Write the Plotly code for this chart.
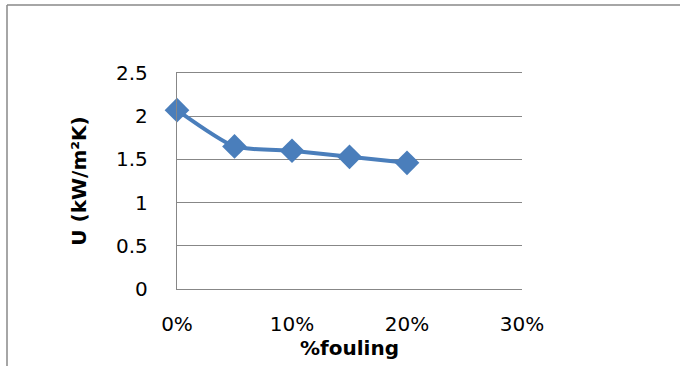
import plotly.graph_objects as go

# Overall heat-transfer coefficient versus fouling fraction
fouling = [0.00, 0.05, 0.10, 0.15, 0.20]
u_values = [2.07, 1.65, 1.60, 1.53, 1.46]
x_ticks = [0.0, 0.1, 0.2, 0.3]
x_tick_labels = ["0%", "10%", "20%", "30%"]
y_ticks = [0, 0.5, 1, 1.5, 2, 2.5]
y_tick_labels = ["0", "0.5", "1", "1.5", "2", "2.5"]

W, H = 680, 366
ML, MR, MT, MB = 177, 158, 73, 77
pw, ph = W - ML - MR, H - MT - MB

line_color = "#4a7ebb"
grid_color = "#878787"
font_family = "'DejaVu Sans', sans-serif"

fig = go.Figure()
fig.add_trace(go.Scatter(
    x=fouling, y=u_values, mode="lines+markers",
    line=dict(color=line_color, width=4, shape="spline", smoothing=0.6),
    marker=dict(symbol="diamond", size=19, color=line_color),
    showlegend=False, cliponaxis=False,
))

def px_x(p):
    return (p - ML) / pw

def px_y(p):
    return (H - MB - p) / ph

# Outer chart frame (left and top edges visible)
fig.add_shape(type="line", xref="paper", yref="paper",
              x0=px_x(7), x1=px_x(7), y0=px_y(5), y1=px_y(H + 5),
              line=dict(color="#888888", width=1.5))
fig.add_shape(type="line", xref="paper", yref="paper",
              x0=px_x(7), x1=px_x(W + 5), y0=px_y(5), y1=px_y(5),
              line=dict(color="#888888", width=1.5))

fig.update_layout(
    width=W, height=H,
    margin=dict(l=ML, r=MR, t=MT, b=MB),
    paper_bgcolor="white", plot_bgcolor="white",
    font=dict(family=font_family, color="#000000", size=20),
    xaxis=dict(
        range=[0, 0.3], tickvals=x_ticks, ticktext=x_tick_labels,
        tickfont=dict(size=20),
        showgrid=False, zeroline=False,
        showline=True, mirror=True, linecolor=grid_color, linewidth=1.3,
        ticks="", ticklen=0, ticklabelstandoff=17,
        title=dict(text="<b>%fouling</b>", standoff=0, font=dict(size=20)),
    ),
    yaxis=dict(
        range=[0, 2.5], tickvals=y_ticks, ticktext=y_tick_labels,
        tickfont=dict(size=20),
        showgrid=True, gridcolor=grid_color, gridwidth=1.3,
        zeroline=False, showline=True, linecolor=grid_color, linewidth=1.3,
        ticks="", ticklen=0, ticklabelstandoff=24,
        title=dict(text="<b>U (kW/m²K)</b>", standoff=24, font=dict(size=20)),
    ),
)

fig.write_html("out.html")
